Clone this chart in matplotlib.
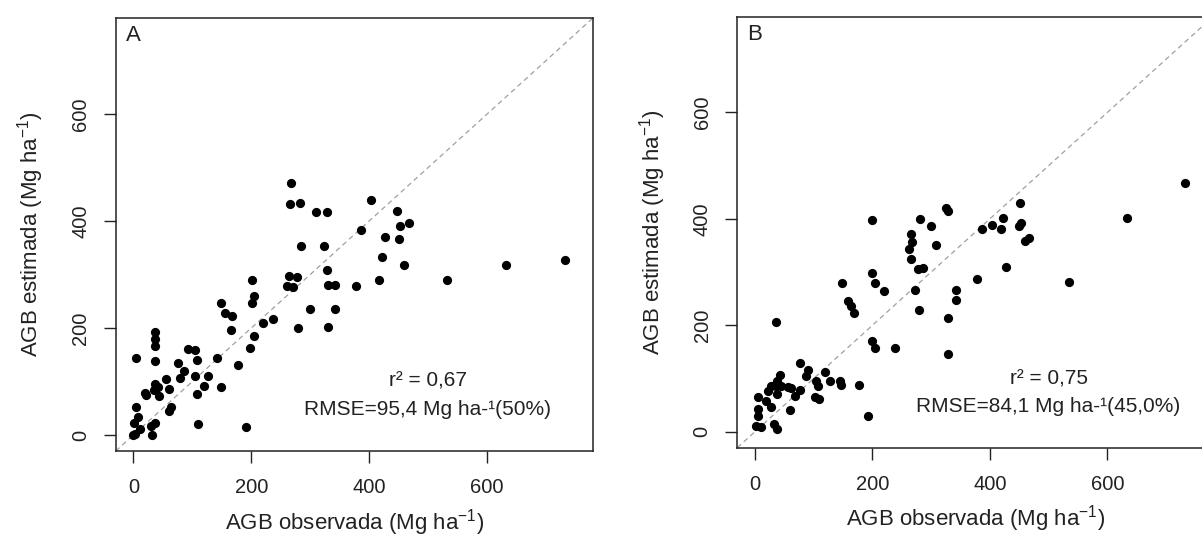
import matplotlib
matplotlib.use("Agg")
import matplotlib.pyplot as plt

plt.rcParams['font.family'] = ['Liberation Sans', 'DejaVu Sans']
plt.rcParams['mathtext.fontset'] = 'custom'
plt.rcParams['mathtext.rm'] = 'Liberation Sans'
plt.rcParams['mathtext.it'] = 'Liberation Sans:italic'

# Panel A: observed vs estimated AGB (Mg/ha)
obs_a = [267, 266, 283, 310, 328, 404, 448, 452, 467, 386, 427, 450, 285, 323, 422,
         732, 632, 459, 328, 264, 277, 201, 533, 417, 260, 271, 330, 342, 378, 205,
         201, 148, 156, 168, 165, 300, 342, 220, 237, 280, 330, 36, 36, 37, 205,
         198, 92, 104, 5, 37, 108, 142, 76, 178, 86, 79, 56, 104, 127, 37,
         42, 60, 43, 35, 19, 21, 120, 148, 108, 64, 60, 5, 110, 191, 7,
         1, 11, 2, 0, 36, 30, 32]
est_a = [471, 432, 434, 417, 417, 439, 419, 391, 396, 384, 371, 366, 353, 353, 333,
         328, 318, 317, 308, 297, 296, 289, 289, 289, 278, 277, 280, 280, 278, 259,
         246, 246, 228, 223, 197, 236, 236, 209, 217, 200, 202, 192, 180, 167, 185,
         162, 161, 159, 144, 139, 141, 144, 134, 131, 120, 106, 104, 111, 111, 96,
         89, 86, 73, 84, 78, 75, 92, 89, 77, 53, 45, 52, 21, 14, 33,
         22, 12, 2, 0, 23, 17, 0]

# Panel B
obs_b = [732, 633, 534, 451, 423, 404, 419, 386, 449, 453, 459, 467, 427, 378, 325,
         328, 281, 200, 300, 265, 267, 263, 265, 309, 278, 287, 200, 204, 148, 219,
         273, 342, 342, 158, 163, 168, 279, 329, 36, 199, 204, 238, 329, 76, 91,
         87, 120, 42, 38, 104, 107, 103, 109, 127, 144, 147, 178, 192, 28, 36,
         45, 56, 62, 22, 76, 69, 38, 5, 19, 28, 59, 5, 6, 2, 11,
         32, 38]
est_b = [467, 401, 281, 429, 401, 389, 381, 381, 387, 393, 359, 364, 310, 287, 420,
         415, 399, 397, 386, 372, 356, 343, 325, 351, 305, 307, 299, 279, 279, 264,
         266, 267, 248, 245, 236, 223, 228, 213, 207, 170, 158, 157, 147, 129, 116,
         105, 113, 107, 96, 95, 85, 65, 61, 96, 95, 88, 88, 29, 85, 85,
         85, 84, 83, 77, 78, 68, 71, 65, 57, 47, 40, 43, 30, 11, 8,
         15, 6]

ticks = [0, 200, 400, 600]
panel_labels = ["A", "B"]
stats_r2 = ["r² = 0,67", "r² = 0,75"]
stats_rmse = ["RMSE=95,4 Mg ha-¹(50%)", "RMSE=84,1 Mg ha-¹(45,0%)"]
xlabel = "AGB observada (Mg ha$^{-1}$)"
ylabel = "AGB estimada (Mg ha$^{-1}$)"

fig = plt.figure(figsize=(12.02, 5.39), dpi=100)
positions = [[0.0963, 0.1633, 0.3970, 0.8033], [0.6134, 0.1694, 0.3958, 0.7997]]
data = [(obs_a, est_a), (obs_b, est_b)]

for i, (pos, (xo, ye)) in enumerate(zip(positions, data)):
    ax = fig.add_axes(pos)
    ax.set_xlim(-30, 780)
    ax.set_ylim(-30, 780)
    ax.axline((0, 0), slope=1, color='#a0a0a0', lw=0.9, ls=(0, (4, 3)), zorder=1)
    ax.scatter(xo, ye, s=44, color='black', zorder=3, linewidths=0)
    ax.set_xticks(ticks)
    ax.set_yticks(ticks)
    ax.tick_params(axis='both', length=8.5, width=1, labelsize=14.5, color='#222222',
                   labelcolor='#222222')
    ax.tick_params(axis='x', pad=11)
    ax.tick_params(axis='y', pad=10, labelrotation=90)
    for lab in ax.get_yticklabels():
        lab.set_va('center')
    for sp in ax.spines.values():
        sp.set_linewidth(1.1)
        sp.set_color('#222222')
    ax.set_xlabel(xlabel, fontsize=16, labelpad=7, color='#222222')
    ax.set_ylabel(ylabel, fontsize=16, labelpad=18, color='#222222')
    ax.text(0, 747, panel_labels[i], fontsize=16, ha='center', va='center', color='#222222')
    ax.text(500, 100, stats_r2[i], fontsize=15, ha='center', va='center', color='#222222')
    ax.text(500, 48, stats_rmse[i], fontsize=15, ha='center', va='center', color='#222222')

fig.savefig("out.png", dpi=100, facecolor='white')
